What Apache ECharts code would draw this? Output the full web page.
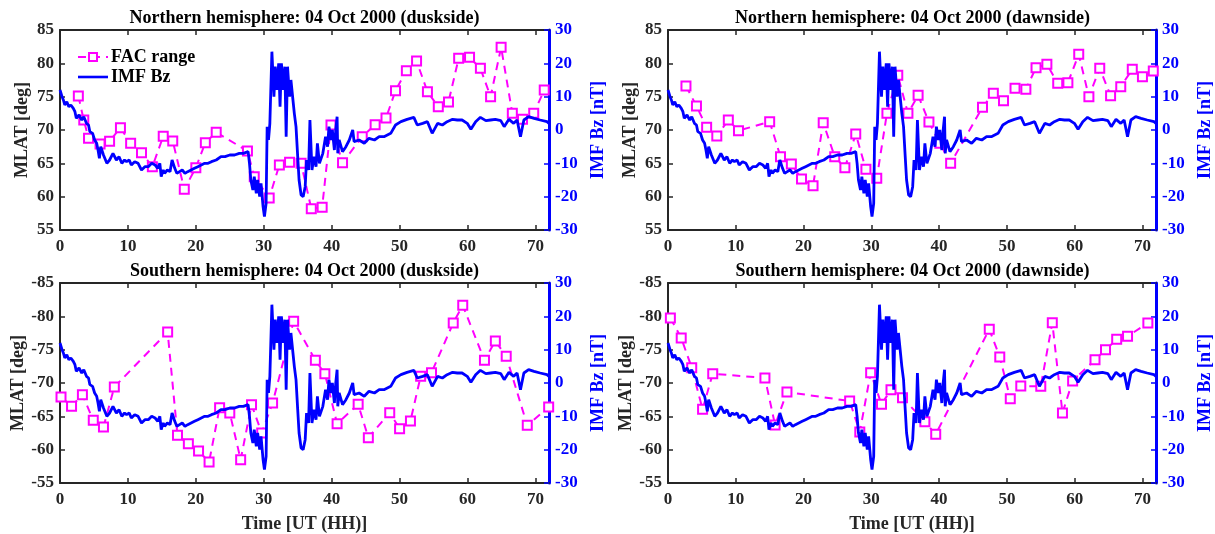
<!DOCTYPE html>
<html>
<head>
<meta charset="utf-8">
<script src="https://cdn.jsdelivr.net/npm/echarts@6/dist/echarts.min.js"></script>
<style>
  html, body { margin: 0; padding: 0; background: #ffffff; }
  #chart { width: 1215px; height: 534px; }
</style>
</head>
<body>
<div id="chart"></div>
<script>
// ---- tick labels ----
const timeTicks = [0, 10, 20, 30, 40, 50, 60, 70];
const bzTicks = [-30, -20, -10, 0, 10, 20, 30];

// ---- panel titles ----
const panelTitles = [
  'Northern hemisphere: 04 Oct 2000 (duskside)',
  'Northern hemisphere: 04 Oct 2000 (dawnside)',
  'Southern hemisphere: 04 Oct 2000 (duskside)',
  'Southern hemisphere: 04 Oct 2000 (dawnside)'
];

// ---- IMF Bz [nT] vs time [UT hours] ----
const imfBz = [
  [0, 12], [0.3, 10], [0.5, 9], [0.7, 7.5], [1.0, 8.5], [1.3, 7], [1.6, 7.5], [1.96, 6.5],
  [2.2, 5.5], [2.4, 3.5], [2.8, 4.5], [3.2, 3], [3.5, 4], [3.9, 2], [4.2, 1.5], [4.4, -0.5],
  [4.8, -1], [5.1, -3], [5.4, -4], [5.6, -6], [5.8, -8.5], [6.0, -5], [6.4, -7.5], [6.9, -10],
  [7.3, -9], [7.8, -7], [8.3, -9], [8.7, -8], [9.1, -10], [9.5, -9], [9.8, -9.5], [10.2, -9],
  [10.5, -10.5], [11.0, -9.5], [11.5, -10], [12.0, -12], [12.5, -11], [13.0, -11], [13.5, -10],
  [14.0, -10.5], [14.4, -11.5], [14.7, -10], [14.9, -14], [15.2, -12], [15.4, -13], [15.8, -12],
  [16.2, -12.5], [16.5, -9], [16.9, -11.5], [17.2, -13], [17.6, -12.5], [18.0, -12], [18.4, -13],
  [18.8, -12.5], [19.3, -12], [19.8, -11.5], [20.3, -11], [20.8, -10.5], [21.3, -10], [21.8, -10],
  [22.3, -9.5], [23.0, -9], [23.7, -8], [24.3, -8], [25.0, -7.5], [25.7, -7.5], [26.4, -7],
  [27.0, -7], [27.7, -6.5], [27.9, -10], [28.1, -15], [28.4, -18], [28.6, -14], [28.9, -19],
  [29.1, -15], [29.4, -20], [29.6, -16], [29.9, -23], [30.1, -26], [30.35, -22], [30.5, 1],
  [30.7, -3], [30.9, 2], [31.2, 23.5], [31.5, 10], [31.7, 19], [31.9, 12], [32.2, 20], [32.4, 7],
  [32.6, 20], [32.9, 12], [33.1, 19], [33.3, -2], [33.5, 19], [33.8, 10], [34.0, 15], [34.3, 9],
  [34.5, 5], [34.75, 1], [35.0, -8], [35.2, -15], [35.5, -19.5], [35.8, -20], [36.1, -17],
  [36.3, -9], [36.6, -12], [36.8, 3], [37.1, -12], [37.4, -8], [37.7, -11], [37.9, -4], [38.2, -10],
  [38.7, -7], [39.1, -2], [39.4, -5], [39.6, 1], [39.9, -3], [40.1, 0], [40.4, -6], [40.6, 0],
  [40.8, 4], [40.9, -7], [41.1, -3], [41.6, -6.5], [42.1, -5], [42.6, -3], [43.1, 0], [43.3, -3.5],
  [44.05, -3], [44.8, -4], [45.5, -2.5], [46.3, -3], [47.0, -2], [47.7, -2], [48.2, -1.5],
  [48.7, -1], [49.4, 1.5], [50.2, 2.5], [51.1, 3.2], [52.1, 3.8], [52.6, 1.5], [53.4, 2],
  [54.1, 2.5], [54.8, -1], [55.6, 2], [56.3, 1.5], [57.0, 2.5], [57.8, 3.2], [58.5, 3], [59.2, 3],
  [59.96, 2], [60.5, 0.2], [61.2, 2.5], [61.9, 3.8], [62.7, 2.8], [63.4, 3], [64.1, 3.2],
  [64.9, 2.8], [65.4, 1], [66.1, 3.2], [66.8, 2], [67.3, 3], [67.8, -2], [68.3, 3], [69.0, 4],
  [69.8, 3.5], [70.7, 3], [71.7, 2.5], [72, 2]
];

// ---- FAC range MLAT [deg] vs time, one list per hemisphere/sector ----
const facNorthDusk = [
  [2.7, 75.1], [3.5, 71.5], [4.2, 68.75], [5.9, 67.9], [7.3, 68.3], [8.9, 70.35], [10.4, 68.0],
  [12.0, 66.6], [13.6, 64.5], [15.2, 69.05], [16.6, 68.35], [18.3, 61.1], [20.0, 64.35],
  [21.4, 68.1], [23.0, 69.65], [27.6, 66.85], [28.6, 63.0], [30.8, 59.8], [32.3, 64.75],
  [33.8, 65.15], [35.5, 65.0], [37.0, 58.2], [38.6, 58.4], [39.9, 70.75], [41.6, 65.1],
  [44.5, 69.0], [46.4, 70.8], [48.0, 71.8], [49.4, 75.9], [51.0, 78.9], [52.5, 80.35],
  [54.1, 75.75], [55.7, 73.5], [57.2, 74.2], [58.7, 80.75], [60.3, 80.9], [61.9, 79.25],
  [63.4, 75.0], [64.95, 82.4], [66.6, 72.5], [68.1, 71.6], [69.75, 72.5], [71.3, 76.0]
];
const facNorthDawn = [
  [2.65, 76.6], [4.2, 73.6], [5.7, 70.4], [7.2, 69.1], [8.9, 71.5], [10.4, 69.9], [15.0, 71.25],
  [16.6, 66.0], [18.2, 64.9], [19.7, 62.65], [21.4, 61.65], [22.9, 71.1], [24.6, 66.0],
  [26.1, 64.35], [27.7, 69.4], [29.2, 64.1], [30.8, 62.75], [32.3, 72.5], [33.9, 78.2],
  [35.4, 72.5], [36.9, 75.2], [38.5, 71.2], [40.1, 68.0], [41.7, 65.0], [46.4, 73.4],
  [48.0, 75.5], [49.5, 74.4], [51.2, 76.25], [52.8, 76.1], [54.3, 79.35], [55.9, 79.85],
  [57.5, 77.0], [59.0, 77.1], [60.6, 81.35], [62.1, 75.0], [63.7, 79.25], [65.3, 75.15],
  [66.8, 76.5], [68.5, 79.1], [70.0, 78.0], [71.6, 78.85]
];
const facSouthDusk = [
  [0.15, -67.9], [1.7, -66.5], [3.3, -68.25], [4.9, -64.4], [6.4, -63.4], [8.0, -69.4],
  [15.85, -77.65], [17.3, -62.15], [18.9, -60.9], [20.4, -59.8], [21.95, -58.15], [23.5, -66.3],
  [25.0, -65.5], [26.6, -58.5], [28.2, -66.75], [29.7, -62.5], [31.3, -67.0], [34.4, -79.25],
  [37.6, -73.4], [39.0, -71.4], [40.8, -63.9], [43.9, -66.8], [45.4, -61.8], [48.55, -65.55],
  [50.0, -63.15], [51.6, -64.3], [53.1, -71.0], [54.7, -71.55], [57.9, -79.0], [59.3, -81.65],
  [62.5, -73.4], [64.1, -76.3], [65.7, -74.0], [68.8, -63.65], [71.95, -66.4]
];
const facSouthDawn = [
  [0.35, -79.75], [1.95, -76.75], [3.5, -72.3], [5.1, -66.05], [6.6, -71.4], [14.3, -70.75],
  [15.8, -63.7], [17.55, -68.65], [26.8, -67.3], [28.3, -62.65], [29.9, -71.55], [31.5, -66.8],
  [32.9, -69.0], [34.6, -67.8], [37.9, -64.2], [39.5, -62.3], [47.4, -78.05], [48.95, -73.9],
  [50.5, -67.65], [52.05, -69.55], [55.0, -69.5], [56.7, -79.05], [58.2, -65.5], [59.7, -70.3],
  [63.0, -73.5], [64.55, -75.0], [66.2, -76.55], [67.8, -77.0], [70.8, -79.0]
];

// ---- drawing ----
const FONT = 'Liberation Serif';
const BLACK = '#262626';
const BLUE = '#0000ff';
const MAGENTA = '#ff00ff';

const panels = [
  { fac: facNorthDusk, left: 60,  top: 30,  south: false, showTime: false },
  { fac: facNorthDawn, left: 668, top: 30,  south: false, showTime: false },
  { fac: facSouthDusk, left: 60,  top: 283, south: true,  showTime: true },
  { fac: facSouthDawn, left: 668, top: 283, south: true,  showTime: true }
];
const W = 489, H = 200;

const grid = [], xAxis = [], yAxis = [], series = [], title = [];
const labelFont = { fontFamily: FONT, fontWeight: 'bold', fontSize: 17 };
const nameFont = { fontFamily: FONT, fontWeight: 'bold', fontSize: 18 };

panels.forEach((p, i) => {
  grid.push({ left: p.left, top: p.top, width: W, height: H, containLabel: false });
  title.push({
    text: panelTitles[i],
    left: p.left + W / 2, top: p.top - 21, textAlign: 'center', padding: 0,
    textStyle: { color: '#000', fontFamily: FONT, fontWeight: 'bold', fontSize: 18 }
  });
  // bottom time axis
  xAxis.push({
    type: 'value', gridIndex: i, min: 0, max: 72, position: 'bottom',
    name: p.showTime ? 'Time [UT (HH)]' : '', nameLocation: 'middle', nameGap: 32,
    nameTextStyle: Object.assign({ color: BLACK }, nameFont),
    axisLine: { show: true, onZero: false, lineStyle: { color: BLACK, width: 2 } },
    axisTick: { show: true, inside: true, length: 5, customValues: timeTicks, lineStyle: { color: BLACK, width: 1.5 } },
    axisLabel: Object.assign({ color: BLACK, margin: 8, customValues: timeTicks }, labelFont),
    splitLine: { show: false }
  });
  // top frame with ticks
  xAxis.push({
    type: 'value', gridIndex: i, min: 0, max: 72, position: 'top',
    axisLine: { show: true, onZero: false, lineStyle: { color: BLACK, width: 2 } },
    axisTick: { show: true, inside: true, length: 5, customValues: timeTicks, lineStyle: { color: BLACK, width: 1.5 } },
    axisLabel: { show: false },
    splitLine: { show: false }
  });
  // MLAT axis (left)
  yAxis.push({
    type: 'value', gridIndex: i, position: 'left',
    min: p.south ? -85 : 55, max: p.south ? -55 : 85, interval: 5, inverse: p.south,
    name: 'MLAT [deg]', nameLocation: 'middle', nameGap: 29, nameRotate: 90,
    nameTextStyle: Object.assign({ color: BLACK }, nameFont),
    axisLine: { show: true, onZero: false, lineStyle: { color: BLACK, width: 2 } },
    axisTick: { show: true, inside: true, length: 5, lineStyle: { color: BLACK, width: 1.5 } },
    axisLabel: Object.assign({ color: BLACK, margin: 6 }, labelFont),
    splitLine: { show: false }
  });
  // IMF Bz axis (right)
  yAxis.push({
    type: 'value', gridIndex: i, position: 'right',
    min: bzTicks[0], max: bzTicks[bzTicks.length - 1], interval: 10,
    name: 'IMF Bz [nT]', nameLocation: 'middle', nameGap: 40, nameRotate: 90,
    nameTextStyle: Object.assign({ color: BLUE }, nameFont),
    axisLine: { show: true, onZero: false, lineStyle: { color: BLUE, width: 3 } },
    axisTick: { show: true, inside: true, length: 5, lineStyle: { color: BLUE, width: 1.5 } },
    axisLabel: Object.assign({ color: BLUE, margin: 6 }, labelFont),
    splitLine: { show: false }
  });
  series.push({
    name: 'FAC range', type: 'line', xAxisIndex: 2 * i, yAxisIndex: 2 * i,
    data: p.fac, symbol: 'emptyRect', symbolSize: 9, showSymbol: true,
    lineStyle: { color: MAGENTA, width: 2, type: [8, 6] },
    itemStyle: { color: MAGENTA, borderWidth: 1.6 },
    z: 2
  });
  series.push({
    name: 'IMF Bz', type: 'line', xAxisIndex: 2 * i, yAxisIndex: 2 * i + 1,
    data: imfBz, showSymbol: false, symbol: 'none',
    lineStyle: { color: BLUE, width: 2.8 },
    itemStyle: { color: BLUE },
    z: 3
  });
});

const chart = echarts.init(document.getElementById('chart'), null, { renderer: 'canvas' });
chart.setOption({
  animation: false,
  backgroundColor: '#ffffff',
  title: title,
  grid: grid,
  xAxis: xAxis,
  yAxis: yAxis,
  legend: {
    data: [
      { name: 'FAC range' },
      { name: 'IMF Bz', icon: 'path://M0,0 L30,0 L30,2.6 L0,2.6 Z' }
    ],
    orient: 'vertical', left: 72, top: 43,
    itemWidth: 30, itemHeight: 10, itemGap: 2, selectedMode: false,
    textStyle: { color: '#000', fontFamily: FONT, fontWeight: 'bold', fontSize: 18, padding: [0, 0, 0, -2] }
  },
  series: series
});
</script>
</body>
</html>
